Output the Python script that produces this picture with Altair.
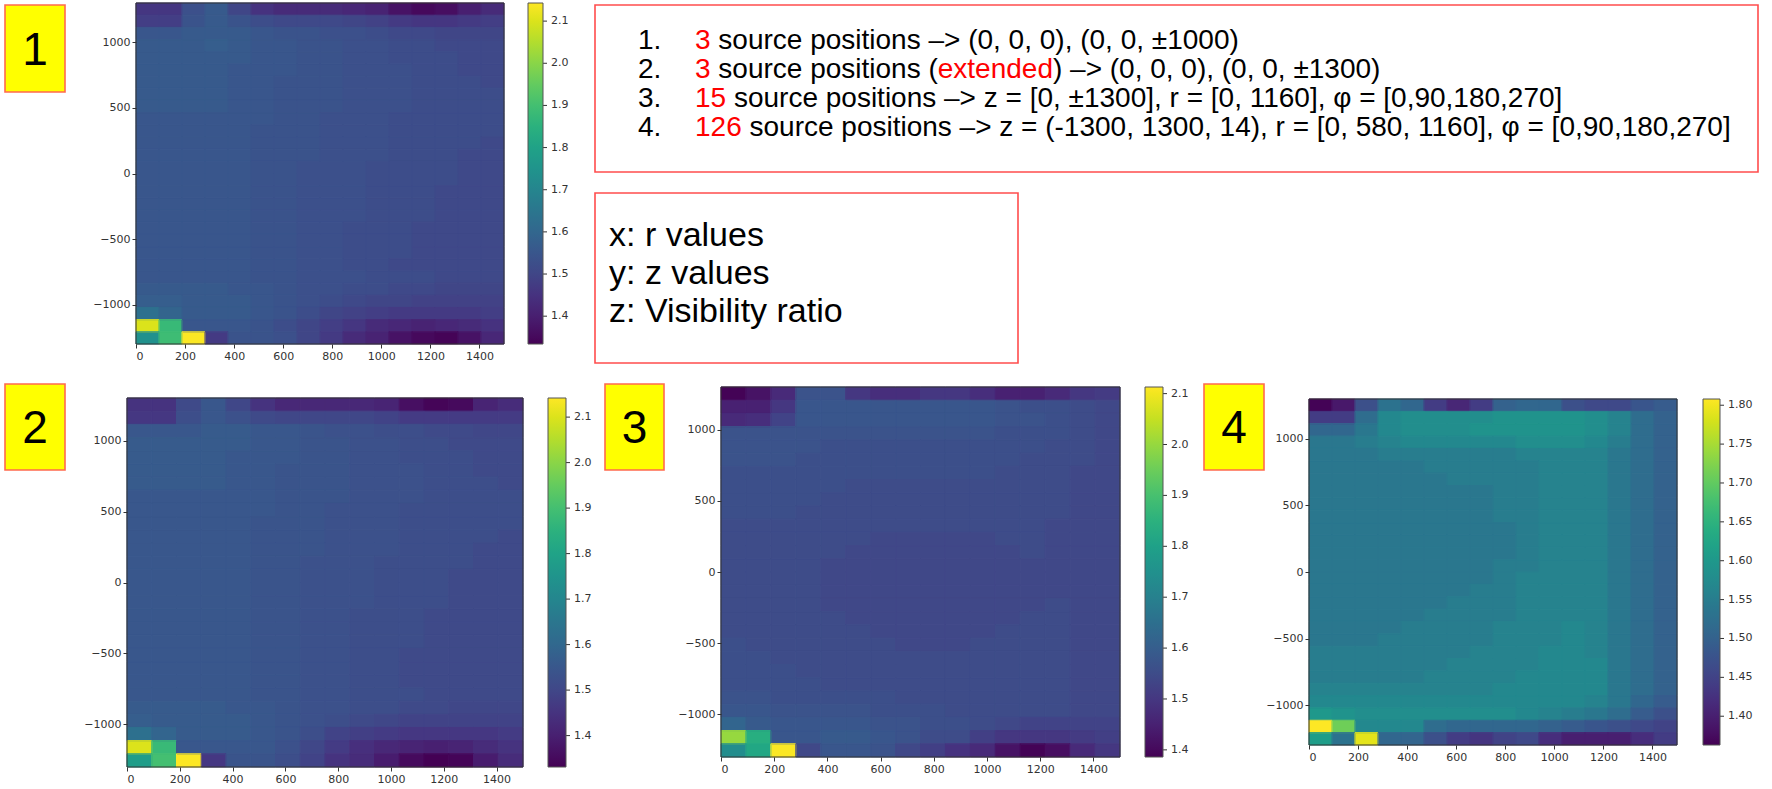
import altair as alt
import pandas as pd

# ---------------- data ----------------
NCOL, NROW = 16, 28
R_MAX, Z_MIN, Z_MAX = 1500, -1300, 1300
X_TICKS = [0, 200, 400, 600, 800, 1000, 1200, 1400]
Y_TICKS = [-1000, -500, 0, 500, 1000]

# rows listed top (z = +1300) to bottom (z = -1300), 16 r-columns each
P1_GRID = [
    [1.46, 1.46, 1.53, 1.56, 1.50, 1.45, 1.43, 1.43, 1.43, 1.42, 1.41, 1.37, 1.35, 1.36, 1.40, 1.43],
    [1.48, 1.48, 1.54, 1.56, 1.54, 1.52, 1.51, 1.51, 1.51, 1.50, 1.49, 1.47, 1.46, 1.46, 1.47, 1.48],
    [1.55, 1.55, 1.56, 1.56, 1.56, 1.55, 1.54, 1.54, 1.53, 1.53, 1.52, 1.51, 1.51, 1.50, 1.50, 1.50],
    [1.56, 1.56, 1.56, 1.57, 1.56, 1.55, 1.55, 1.54, 1.54, 1.53, 1.53, 1.52, 1.52, 1.51, 1.51, 1.51],
    [1.56, 1.56, 1.56, 1.56, 1.56, 1.55, 1.55, 1.54, 1.54, 1.53, 1.53, 1.52, 1.52, 1.52, 1.51, 1.51],
    [1.56, 1.56, 1.56, 1.56, 1.55, 1.55, 1.55, 1.54, 1.54, 1.53, 1.53, 1.53, 1.52, 1.52, 1.51, 1.51],
    [1.56, 1.56, 1.56, 1.56, 1.55, 1.55, 1.54, 1.54, 1.54, 1.53, 1.53, 1.53, 1.52, 1.52, 1.52, 1.51],
    [1.56, 1.56, 1.56, 1.56, 1.55, 1.55, 1.54, 1.54, 1.54, 1.53, 1.53, 1.53, 1.52, 1.52, 1.52, 1.52],
    [1.56, 1.56, 1.56, 1.56, 1.55, 1.55, 1.54, 1.54, 1.54, 1.53, 1.53, 1.53, 1.52, 1.52, 1.52, 1.52],
    [1.55, 1.55, 1.55, 1.55, 1.55, 1.55, 1.54, 1.54, 1.53, 1.53, 1.53, 1.52, 1.52, 1.52, 1.52, 1.52],
    [1.55, 1.55, 1.55, 1.55, 1.55, 1.54, 1.54, 1.54, 1.53, 1.53, 1.53, 1.52, 1.52, 1.52, 1.52, 1.52],
    [1.55, 1.55, 1.55, 1.55, 1.55, 1.54, 1.54, 1.54, 1.53, 1.53, 1.53, 1.52, 1.52, 1.52, 1.52, 1.51],
    [1.55, 1.55, 1.55, 1.55, 1.55, 1.54, 1.54, 1.54, 1.53, 1.53, 1.53, 1.52, 1.52, 1.52, 1.51, 1.51],
    [1.55, 1.55, 1.55, 1.55, 1.55, 1.54, 1.54, 1.53, 1.53, 1.53, 1.52, 1.52, 1.52, 1.52, 1.51, 1.51],
    [1.55, 1.55, 1.55, 1.55, 1.55, 1.54, 1.54, 1.53, 1.53, 1.53, 1.52, 1.52, 1.52, 1.52, 1.51, 1.51],
    [1.55, 1.55, 1.55, 1.55, 1.55, 1.54, 1.54, 1.53, 1.53, 1.53, 1.52, 1.52, 1.52, 1.51, 1.51, 1.51],
    [1.55, 1.55, 1.55, 1.55, 1.55, 1.54, 1.54, 1.53, 1.53, 1.53, 1.52, 1.52, 1.52, 1.51, 1.51, 1.51],
    [1.55, 1.55, 1.55, 1.55, 1.55, 1.54, 1.54, 1.53, 1.53, 1.53, 1.52, 1.52, 1.52, 1.51, 1.51, 1.51],
    [1.55, 1.55, 1.55, 1.55, 1.55, 1.54, 1.54, 1.53, 1.53, 1.52, 1.52, 1.52, 1.51, 1.51, 1.51, 1.51],
    [1.55, 1.55, 1.55, 1.55, 1.55, 1.54, 1.54, 1.53, 1.53, 1.52, 1.52, 1.52, 1.51, 1.51, 1.51, 1.51],
    [1.55, 1.55, 1.55, 1.55, 1.55, 1.54, 1.54, 1.53, 1.53, 1.52, 1.52, 1.52, 1.51, 1.51, 1.51, 1.51],
    [1.55, 1.55, 1.55, 1.55, 1.55, 1.54, 1.54, 1.53, 1.53, 1.52, 1.52, 1.51, 1.51, 1.51, 1.51, 1.51],
    [1.55, 1.55, 1.55, 1.55, 1.55, 1.54, 1.54, 1.53, 1.53, 1.53, 1.52, 1.52, 1.52, 1.51, 1.51, 1.51],
    [1.56, 1.56, 1.56, 1.56, 1.55, 1.55, 1.54, 1.53, 1.53, 1.52, 1.52, 1.51, 1.51, 1.50, 1.50, 1.50],
    [1.57, 1.57, 1.56, 1.56, 1.56, 1.55, 1.54, 1.53, 1.52, 1.51, 1.50, 1.50, 1.49, 1.49, 1.49, 1.49],
    [1.63, 1.59, 1.56, 1.56, 1.56, 1.55, 1.54, 1.52, 1.50, 1.49, 1.48, 1.47, 1.47, 1.47, 1.47, 1.48],
    [2.10, 1.88, 1.55, 1.55, 1.55, 1.54, 1.52, 1.50, 1.48, 1.46, 1.43, 1.42, 1.41, 1.42, 1.43, 1.45],
    [1.74, 1.89, 2.14, 1.47, 1.54, 1.54, 1.53, 1.50, 1.47, 1.43, 1.41, 1.37, 1.35, 1.34, 1.37, 1.42],
]
P1_DOMAIN = [1.334, 2.143]
P1_TICKS = [1.4, 1.5, 1.6, 1.7, 1.8, 1.9, 2.0, 2.1]

P2_GRID = [
    [1.45, 1.45, 1.51, 1.55, 1.50, 1.45, 1.42, 1.42, 1.42, 1.42, 1.41, 1.36, 1.34, 1.35, 1.41, 1.43],
    [1.46, 1.46, 1.52, 1.55, 1.53, 1.51, 1.50, 1.50, 1.50, 1.50, 1.49, 1.47, 1.47, 1.47, 1.47, 1.47],
    [1.55, 1.55, 1.55, 1.56, 1.56, 1.55, 1.55, 1.54, 1.53, 1.53, 1.52, 1.52, 1.51, 1.51, 1.50, 1.50],
    [1.56, 1.56, 1.56, 1.56, 1.56, 1.55, 1.55, 1.54, 1.54, 1.53, 1.53, 1.52, 1.52, 1.51, 1.51, 1.51],
    [1.56, 1.56, 1.56, 1.56, 1.55, 1.55, 1.55, 1.54, 1.54, 1.53, 1.53, 1.52, 1.52, 1.52, 1.51, 1.51],
    [1.56, 1.56, 1.56, 1.56, 1.55, 1.55, 1.54, 1.54, 1.54, 1.53, 1.53, 1.53, 1.52, 1.52, 1.51, 1.51],
    [1.56, 1.56, 1.56, 1.56, 1.55, 1.55, 1.54, 1.54, 1.54, 1.53, 1.53, 1.53, 1.52, 1.52, 1.52, 1.51],
    [1.55, 1.55, 1.55, 1.55, 1.55, 1.55, 1.54, 1.54, 1.54, 1.53, 1.53, 1.53, 1.52, 1.52, 1.52, 1.52],
    [1.55, 1.55, 1.55, 1.55, 1.55, 1.55, 1.54, 1.54, 1.53, 1.53, 1.53, 1.52, 1.52, 1.52, 1.52, 1.52],
    [1.55, 1.55, 1.55, 1.55, 1.55, 1.54, 1.54, 1.54, 1.53, 1.53, 1.53, 1.52, 1.52, 1.52, 1.52, 1.52],
    [1.55, 1.55, 1.55, 1.55, 1.55, 1.54, 1.54, 1.54, 1.53, 1.53, 1.53, 1.52, 1.52, 1.52, 1.52, 1.51],
    [1.55, 1.55, 1.55, 1.55, 1.55, 1.54, 1.54, 1.54, 1.53, 1.53, 1.53, 1.52, 1.52, 1.52, 1.51, 1.51],
    [1.55, 1.55, 1.55, 1.55, 1.55, 1.54, 1.54, 1.53, 1.53, 1.53, 1.52, 1.52, 1.52, 1.52, 1.51, 1.51],
    [1.55, 1.55, 1.55, 1.55, 1.55, 1.54, 1.54, 1.53, 1.53, 1.53, 1.52, 1.52, 1.52, 1.51, 1.51, 1.51],
    [1.55, 1.55, 1.55, 1.55, 1.55, 1.54, 1.54, 1.53, 1.53, 1.53, 1.52, 1.52, 1.52, 1.51, 1.51, 1.51],
    [1.55, 1.55, 1.55, 1.55, 1.55, 1.54, 1.54, 1.53, 1.53, 1.53, 1.52, 1.52, 1.52, 1.51, 1.51, 1.51],
    [1.55, 1.55, 1.55, 1.55, 1.55, 1.54, 1.54, 1.53, 1.53, 1.52, 1.52, 1.52, 1.51, 1.51, 1.51, 1.51],
    [1.55, 1.55, 1.55, 1.55, 1.55, 1.54, 1.54, 1.53, 1.53, 1.52, 1.52, 1.52, 1.51, 1.51, 1.51, 1.51],
    [1.55, 1.55, 1.55, 1.55, 1.55, 1.54, 1.54, 1.53, 1.53, 1.52, 1.52, 1.52, 1.51, 1.51, 1.51, 1.51],
    [1.55, 1.55, 1.55, 1.55, 1.55, 1.54, 1.54, 1.53, 1.53, 1.52, 1.52, 1.51, 1.51, 1.51, 1.51, 1.51],
    [1.55, 1.55, 1.55, 1.55, 1.55, 1.54, 1.54, 1.53, 1.53, 1.52, 1.52, 1.51, 1.51, 1.51, 1.51, 1.51],
    [1.55, 1.55, 1.55, 1.55, 1.55, 1.54, 1.54, 1.53, 1.53, 1.52, 1.52, 1.51, 1.51, 1.51, 1.51, 1.51],
    [1.55, 1.55, 1.55, 1.55, 1.55, 1.54, 1.54, 1.53, 1.53, 1.52, 1.52, 1.52, 1.51, 1.51, 1.51, 1.51],
    [1.56, 1.56, 1.56, 1.56, 1.55, 1.55, 1.54, 1.53, 1.53, 1.52, 1.52, 1.51, 1.51, 1.50, 1.50, 1.50],
    [1.57, 1.56, 1.56, 1.56, 1.56, 1.55, 1.54, 1.53, 1.52, 1.51, 1.50, 1.49, 1.49, 1.49, 1.49, 1.49],
    [1.63, 1.59, 1.56, 1.56, 1.56, 1.55, 1.54, 1.52, 1.49, 1.48, 1.47, 1.46, 1.46, 1.46, 1.46, 1.47],
    [2.10, 1.88, 1.55, 1.55, 1.55, 1.55, 1.53, 1.50, 1.47, 1.44, 1.42, 1.41, 1.40, 1.41, 1.43, 1.45],
    [1.78, 1.90, 2.14, 1.46, 1.54, 1.54, 1.52, 1.49, 1.45, 1.43, 1.39, 1.35, 1.33, 1.34, 1.39, 1.43],
]
P2_DOMAIN = [1.331, 2.142]
P2_TICKS = [1.4, 1.5, 1.6, 1.7, 1.8, 1.9, 2.0, 2.1]

P3_GRID = [
    [1.39, 1.42, 1.47, 1.57, 1.57, 1.50, 1.48, 1.48, 1.50, 1.50, 1.48, 1.45, 1.45, 1.47, 1.50, 1.51],
    [1.45, 1.45, 1.50, 1.58, 1.58, 1.58, 1.58, 1.58, 1.58, 1.58, 1.58, 1.57, 1.56, 1.56, 1.55, 1.54],
    [1.47, 1.48, 1.53, 1.58, 1.58, 1.58, 1.58, 1.58, 1.58, 1.58, 1.58, 1.57, 1.57, 1.56, 1.55, 1.54],
    [1.57, 1.57, 1.57, 1.57, 1.57, 1.57, 1.57, 1.57, 1.57, 1.57, 1.57, 1.56, 1.56, 1.56, 1.55, 1.54],
    [1.57, 1.57, 1.57, 1.57, 1.56, 1.56, 1.56, 1.56, 1.56, 1.56, 1.56, 1.56, 1.56, 1.55, 1.55, 1.54],
    [1.57, 1.57, 1.57, 1.56, 1.56, 1.56, 1.56, 1.56, 1.56, 1.56, 1.56, 1.56, 1.55, 1.55, 1.55, 1.54],
    [1.56, 1.56, 1.56, 1.56, 1.56, 1.56, 1.56, 1.56, 1.56, 1.56, 1.56, 1.55, 1.55, 1.55, 1.54, 1.54],
    [1.56, 1.56, 1.56, 1.56, 1.56, 1.55, 1.55, 1.55, 1.55, 1.55, 1.55, 1.55, 1.55, 1.55, 1.54, 1.54],
    [1.56, 1.56, 1.56, 1.56, 1.55, 1.55, 1.55, 1.55, 1.55, 1.55, 1.55, 1.55, 1.55, 1.55, 1.54, 1.54],
    [1.56, 1.56, 1.56, 1.55, 1.55, 1.55, 1.55, 1.55, 1.55, 1.55, 1.55, 1.55, 1.55, 1.55, 1.54, 1.54],
    [1.55, 1.55, 1.55, 1.55, 1.55, 1.55, 1.55, 1.55, 1.55, 1.55, 1.55, 1.55, 1.55, 1.54, 1.54, 1.54],
    [1.55, 1.55, 1.55, 1.55, 1.55, 1.55, 1.54, 1.54, 1.54, 1.54, 1.54, 1.55, 1.55, 1.54, 1.54, 1.54],
    [1.55, 1.55, 1.55, 1.55, 1.55, 1.54, 1.54, 1.54, 1.54, 1.54, 1.54, 1.54, 1.55, 1.54, 1.54, 1.54],
    [1.55, 1.55, 1.55, 1.55, 1.54, 1.54, 1.54, 1.54, 1.54, 1.54, 1.54, 1.54, 1.54, 1.54, 1.54, 1.54],
    [1.55, 1.55, 1.55, 1.55, 1.54, 1.54, 1.54, 1.54, 1.54, 1.54, 1.54, 1.54, 1.54, 1.54, 1.54, 1.54],
    [1.55, 1.55, 1.55, 1.55, 1.54, 1.54, 1.54, 1.54, 1.54, 1.54, 1.54, 1.54, 1.54, 1.54, 1.54, 1.54],
    [1.55, 1.55, 1.55, 1.55, 1.54, 1.54, 1.54, 1.54, 1.54, 1.54, 1.54, 1.54, 1.54, 1.55, 1.54, 1.54],
    [1.55, 1.55, 1.55, 1.55, 1.55, 1.54, 1.54, 1.54, 1.54, 1.54, 1.54, 1.54, 1.55, 1.55, 1.54, 1.54],
    [1.55, 1.55, 1.55, 1.55, 1.55, 1.55, 1.54, 1.54, 1.54, 1.54, 1.54, 1.55, 1.55, 1.55, 1.54, 1.54],
    [1.56, 1.55, 1.55, 1.55, 1.55, 1.55, 1.55, 1.54, 1.54, 1.54, 1.55, 1.55, 1.55, 1.55, 1.54, 1.54],
    [1.56, 1.56, 1.55, 1.55, 1.55, 1.55, 1.55, 1.55, 1.55, 1.55, 1.55, 1.55, 1.55, 1.55, 1.54, 1.54],
    [1.56, 1.56, 1.56, 1.55, 1.55, 1.55, 1.55, 1.55, 1.55, 1.55, 1.55, 1.55, 1.55, 1.55, 1.54, 1.54],
    [1.56, 1.56, 1.56, 1.56, 1.55, 1.55, 1.55, 1.55, 1.55, 1.55, 1.55, 1.55, 1.55, 1.55, 1.54, 1.54],
    [1.57, 1.57, 1.56, 1.56, 1.56, 1.56, 1.56, 1.55, 1.55, 1.55, 1.55, 1.55, 1.55, 1.55, 1.54, 1.54],
    [1.58, 1.58, 1.57, 1.57, 1.57, 1.57, 1.56, 1.56, 1.56, 1.55, 1.55, 1.55, 1.55, 1.55, 1.54, 1.54],
    [1.62, 1.59, 1.58, 1.58, 1.58, 1.58, 1.57, 1.57, 1.56, 1.56, 1.55, 1.54, 1.53, 1.53, 1.53, 1.53],
    [2.00, 1.84, 1.58, 1.58, 1.59, 1.59, 1.58, 1.57, 1.55, 1.55, 1.52, 1.50, 1.50, 1.50, 1.51, 1.52],
    [1.74, 1.82, 2.11, 1.54, 1.58, 1.58, 1.57, 1.54, 1.52, 1.49, 1.47, 1.42, 1.39, 1.41, 1.47, 1.50],
]
P3_DOMAIN = [1.386, 2.113]
P3_TICKS = [1.4, 1.5, 1.6, 1.7, 1.8, 1.9, 2.0, 2.1]

P4_GRID = [
    [1.365, 1.39, 1.47, 1.53, 1.51, 1.44, 1.41, 1.44, 1.50, 1.51, 1.51, 1.47, 1.46, 1.46, 1.48, 1.49],
    [1.44, 1.44, 1.52, 1.57, 1.58, 1.58, 1.58, 1.58, 1.59, 1.59, 1.59, 1.59, 1.58, 1.56, 1.52, 1.50],
    [1.51, 1.51, 1.54, 1.57, 1.58, 1.58, 1.58, 1.59, 1.59, 1.59, 1.59, 1.59, 1.58, 1.56, 1.52, 1.50],
    [1.54, 1.54, 1.55, 1.56, 1.57, 1.57, 1.57, 1.57, 1.57, 1.58, 1.58, 1.58, 1.57, 1.55, 1.52, 1.50],
    [1.54, 1.54, 1.54, 1.55, 1.55, 1.55, 1.55, 1.55, 1.55, 1.56, 1.56, 1.56, 1.56, 1.54, 1.52, 1.50],
    [1.54, 1.54, 1.54, 1.54, 1.54, 1.55, 1.55, 1.55, 1.55, 1.55, 1.56, 1.56, 1.56, 1.54, 1.52, 1.50],
    [1.54, 1.54, 1.54, 1.54, 1.54, 1.54, 1.55, 1.55, 1.55, 1.55, 1.56, 1.56, 1.56, 1.54, 1.52, 1.50],
    [1.54, 1.54, 1.54, 1.54, 1.54, 1.54, 1.54, 1.54, 1.55, 1.55, 1.56, 1.56, 1.56, 1.54, 1.52, 1.50],
    [1.54, 1.54, 1.54, 1.54, 1.54, 1.54, 1.54, 1.54, 1.55, 1.55, 1.56, 1.56, 1.56, 1.54, 1.52, 1.50],
    [1.54, 1.54, 1.54, 1.54, 1.54, 1.54, 1.54, 1.54, 1.55, 1.55, 1.56, 1.56, 1.56, 1.54, 1.52, 1.50],
    [1.54, 1.54, 1.54, 1.54, 1.54, 1.54, 1.54, 1.54, 1.54, 1.55, 1.56, 1.56, 1.56, 1.54, 1.52, 1.50],
    [1.54, 1.54, 1.54, 1.54, 1.54, 1.54, 1.54, 1.54, 1.54, 1.55, 1.56, 1.56, 1.56, 1.54, 1.52, 1.50],
    [1.54, 1.54, 1.54, 1.54, 1.54, 1.54, 1.54, 1.54, 1.54, 1.55, 1.56, 1.56, 1.56, 1.54, 1.52, 1.50],
    [1.54, 1.54, 1.54, 1.54, 1.54, 1.54, 1.54, 1.54, 1.55, 1.55, 1.56, 1.56, 1.56, 1.54, 1.52, 1.50],
    [1.54, 1.54, 1.54, 1.54, 1.54, 1.54, 1.54, 1.54, 1.55, 1.56, 1.56, 1.56, 1.56, 1.54, 1.52, 1.50],
    [1.54, 1.54, 1.54, 1.54, 1.54, 1.54, 1.54, 1.55, 1.55, 1.56, 1.56, 1.56, 1.56, 1.54, 1.52, 1.50],
    [1.54, 1.54, 1.54, 1.54, 1.54, 1.54, 1.55, 1.55, 1.55, 1.56, 1.56, 1.56, 1.56, 1.54, 1.52, 1.50],
    [1.54, 1.54, 1.54, 1.54, 1.54, 1.55, 1.55, 1.55, 1.55, 1.56, 1.56, 1.56, 1.56, 1.54, 1.52, 1.50],
    [1.54, 1.54, 1.54, 1.54, 1.55, 1.55, 1.55, 1.55, 1.56, 1.56, 1.56, 1.57, 1.56, 1.54, 1.52, 1.50],
    [1.54, 1.54, 1.54, 1.55, 1.55, 1.55, 1.55, 1.55, 1.56, 1.56, 1.56, 1.57, 1.56, 1.54, 1.52, 1.50],
    [1.55, 1.55, 1.55, 1.55, 1.55, 1.55, 1.55, 1.56, 1.56, 1.56, 1.57, 1.57, 1.56, 1.54, 1.52, 1.50],
    [1.55, 1.55, 1.55, 1.55, 1.55, 1.55, 1.56, 1.56, 1.56, 1.56, 1.57, 1.57, 1.57, 1.54, 1.52, 1.50],
    [1.55, 1.55, 1.55, 1.55, 1.55, 1.56, 1.56, 1.56, 1.56, 1.57, 1.57, 1.57, 1.57, 1.54, 1.52, 1.50],
    [1.56, 1.56, 1.56, 1.56, 1.56, 1.56, 1.56, 1.56, 1.57, 1.57, 1.57, 1.57, 1.57, 1.54, 1.52, 1.50],
    [1.57, 1.57, 1.57, 1.57, 1.57, 1.57, 1.57, 1.57, 1.57, 1.57, 1.57, 1.57, 1.56, 1.54, 1.51, 1.49],
    [1.60, 1.59, 1.58, 1.58, 1.58, 1.58, 1.58, 1.58, 1.58, 1.57, 1.56, 1.55, 1.54, 1.52, 1.49, 1.47],
    [1.808, 1.71, 1.57, 1.57, 1.57, 1.52, 1.51, 1.51, 1.51, 1.51, 1.50, 1.49, 1.48, 1.47, 1.46, 1.45],
    [1.61, 1.53, 1.79, 1.51, 1.505, 1.47, 1.44, 1.43, 1.45, 1.46, 1.42, 1.40, 1.40, 1.40, 1.42, 1.44],
]
P4_DOMAIN = [1.363, 1.808]
P4_TICKS = [1.40, 1.45, 1.50, 1.55, 1.60, 1.65, 1.70, 1.75, 1.80]

LINE_NUMBERS = ["1.", "2.", "3.", "4."]
LINE_SEGMENTS = [
    [("3 ", "red"), ("source positions \u2013> (0, 0, 0), (0, 0, \u00b11000)", "black")],
    [("3 ", "red"), ("source positions (", "black"), ("extended", "red"),
     (") \u2013> (0, 0, 0), (0, 0, \u00b11300)", "black")],
    [("15 ", "red"), ("source positions \u2013> z = [0, \u00b11300], r = [0, 1160], \u03c6 = [0,90,180,270]", "black")],
    [("126 ", "red"), ("source positions \u2013> z = (-1300, 1300, 14), r = [0, 580, 1160], \u03c6 = [0,90,180,270]", "black")],
]
AXIS_NOTES = ["x: r values", "y: z values", "z: Visibility ratio"]
PANEL_LABELS = ["1", "2", "3", "4"]

# ---------------- layout (pixels) ----------------
W, H = 1772, 789
PANELS = [
    dict(grid=P1_GRID, domain=P1_DOMAIN, ticks=P1_TICKS, fmt=".1f", left=136, right=504, top=3, bottom=344, cbx=528, cbw=15),
    dict(grid=P2_GRID, domain=P2_DOMAIN, ticks=P2_TICKS, fmt=".1f", left=127, right=523, top=398, bottom=767, cbx=548, cbw=18),
    dict(grid=P3_GRID, domain=P3_DOMAIN, ticks=P3_TICKS, fmt=".1f", left=721, right=1120, top=387, bottom=757, cbx=1145, cbw=18),
    dict(grid=P4_GRID, domain=P4_DOMAIN, ticks=P4_TICKS, fmt=".2f", left=1309, right=1677, top=399, bottom=745, cbx=1703, cbw=17),
]
LABEL_BOXES = [(5, 65, 5, 92), (5, 65, 384, 470), (605, 664, 384, 470), (1204, 1264, 384, 470)]
TEXT_BOXES = [(595, 1758, 5, 172), (595, 1018, 193, 363)]
NUM_X, SEG_X0, LINE_Y, FS1 = 638, 695, [41, 70, 99, 128], 28.0
NOTE_X, NOTE_Y, FS2 = 609, [236, 274, 312], 34

ARIAL = {' ': 0.278, '0': 0.556, '1': 0.556, '2': 0.556, '3': 0.556, '5': 0.556, '6': 0.556,
         's': 0.5, 'o': 0.556, 'u': 0.556, 'r': 0.333, 'c': 0.5, 'e': 0.556, 'p': 0.556,
         'i': 0.222, 't': 0.278, 'n': 0.556, '(': 0.333, 'x': 0.5, 'd': 0.556}


def text_width(s, fs):
    return sum(ARIAL.get(ch, 0.556) for ch in s) * fs


def grid_frame(grid):
    dx = R_MAX / NCOL
    dz = (Z_MAX - Z_MIN) / NROW
    rows = []
    for r, row in enumerate(grid):
        ztop = Z_MAX - r * dz
        for c, v in enumerate(row):
            rows.append(dict(x0=c * dx, x1=(c + 1) * dx, y0=ztop - dz, y1=ztop, v=v))
    return pd.DataFrame(rows)


AX = dict(labelFont="DejaVu Sans", labelFontSize=11, labelColor="#333333", tickColor="#333333",
          tickSize=4, tickWidth=1, labelPadding=2, grid=False, domain=False, title=None, zindex=2)


def make_panel(p):
    xs = alt.Scale(domain=[0, R_MAX], range=[p["left"], p["right"]], nice=False, zero=False)
    ys = alt.Scale(domain=[Z_MIN, Z_MAX], range=[p["bottom"], p["top"]], nice=False, zero=False)
    cs = alt.Scale(scheme="viridis", domain=p["domain"], nice=False)
    df = grid_frame(p["grid"])
    heat = alt.Chart(df).mark_rect(strokeWidth=0).encode(
        x=alt.X("x0:Q", scale=xs,
                axis=alt.Axis(orient="bottom", offset=p["bottom"] - H, values=X_TICKS, format="d", **AX)),
        x2="x1:Q",
        y=alt.Y("y0:Q", scale=ys,
                axis=alt.Axis(orient="left", offset=-p["left"], values=Y_TICKS, format="d",
                              labelExpr="replace(datum.label, '-', '\u2212')", **AX)),
        y2="y1:Q",
        color=alt.Color("v:Q", scale=cs, legend=alt.Legend(
            type="gradient", orient="none", legendX=p["cbx"], legendY=p["top"], direction="vertical",
            gradientLength=p["bottom"] - p["top"], gradientThickness=p["cbw"], title=None,
            values=p["ticks"], format=p["fmt"], labelFont="DejaVu Sans", labelFontSize=11,
            labelColor="#333333", labelOffset=8, gradientStrokeColor="#555555",
            gradientStrokeWidth=1, padding=0)),
    )
    # same cells, outlined in their own colour so no seams show between neighbours
    seams = alt.Chart(df).mark_rect(filled=False, strokeWidth=1).encode(
        x=alt.X("x0:Q", scale=xs, axis=None), x2="x1:Q",
        y=alt.Y("y0:Q", scale=ys, axis=None), y2="y1:Q",
        stroke=alt.Stroke("v:Q", scale=cs, legend=None),
    )
    frame = alt.Chart(pd.DataFrame({"a": [0], "b": [R_MAX], "c": [Z_MIN], "d": [Z_MAX]})).mark_rect(
        fillOpacity=0, stroke="#333333", strokeWidth=1).encode(
        x=alt.X("a:Q", scale=xs, axis=None), x2="b:Q",
        y=alt.Y("c:Q", scale=ys, axis=None), y2="d:Q")
    # colourbar tick marks, placed with a scale matching the colourbar
    cb_ticks = alt.Chart(pd.DataFrame({"t": p["ticks"]})).mark_rule(color="#333333", strokeWidth=1).encode(
        y=alt.Y("t:Q", scale=alt.Scale(domain=p["domain"], range=[p["bottom"], p["top"]], nice=False, zero=False),
                axis=None),
        x=alt.value(p["cbx"] + p["cbw"]), x2=alt.value(p["cbx"] + p["cbw"] + 4))
    return [heat, seams, frame, cb_ticks]


# ---------------- annotations ----------------
box_rows = []
for (x0, x1, y0, y1) in TEXT_BOXES:
    box_rows.append(dict(x0=x0, x1=x1, y0=y0, y1=y1, f="white", s="#ff4d4d"))
for (x0, x1, y0, y1) in LABEL_BOXES:
    box_rows.append(dict(x0=x0, x1=x1, y0=y0, y1=y1, f="#ffff00", s="#ff6a4d"))
boxes = alt.Chart(pd.DataFrame(box_rows)).mark_rect(strokeWidth=1.6).encode(
    x=alt.X("x0:Q", scale=None, axis=None), x2="x1:Q",
    y=alt.Y("y0:Q", scale=None, axis=None), y2="y1:Q",
    fill=alt.Fill("f:N", scale=None), stroke=alt.Stroke("s:N", scale=None))

txt_rows = []
for i, segs in enumerate(LINE_SEGMENTS):
    y = LINE_Y[i]
    txt_rows.append(dict(x=NUM_X, y=y, t=LINE_NUMBERS[i], c="#000000", s=FS1))
    cx = SEG_X0
    for text, col in segs:
        txt_rows.append(dict(x=cx, y=y, t=text.strip(), c="#ff0000" if col == "red" else "#000000", s=FS1))
        cx += text_width(text, FS1)
for i, note in enumerate(AXIS_NOTES):
    txt_rows.append(dict(x=NOTE_X, y=NOTE_Y[i], t=note, c="#000000", s=FS2))
texts = alt.Chart(pd.DataFrame(txt_rows)).mark_text(
    align="left", baseline="middle", font="Liberation Sans").encode(
    x=alt.X("x:Q", scale=None, axis=None), y=alt.Y("y:Q", scale=None, axis=None),
    text="t:N", color=alt.Color("c:N", scale=None), size=alt.Size("s:Q", scale=None))

num_rows = [dict(x=(b[0] + b[1]) / 2, y=(b[2] + b[3]) / 2 + 2, t=PANEL_LABELS[i]) for i, b in enumerate(LABEL_BOXES)]
nums = alt.Chart(pd.DataFrame(num_rows)).mark_text(
    align="center", baseline="middle", font="Liberation Sans", fontSize=46, color="black").encode(
    x=alt.X("x:Q", scale=None, axis=None), y=alt.Y("y:Q", scale=None, axis=None), text="t:N")

layers = []
for p in PANELS:
    layers.extend(make_panel(p))
layers.extend([boxes, texts, nums])

chart = alt.layer(*layers).resolve_scale(
    x="independent", y="independent", color="independent", stroke="independent",
    fill="independent", size="independent").resolve_axis(
    x="independent", y="independent").resolve_legend(color="independent", stroke="independent").properties(
    width=W, height=H, autosize=alt.AutoSizeParams(type="none"), padding=0).configure_view(
    stroke="transparent")

chart.save("out.html", embed_options={"renderer": "svg", "actions": False})
